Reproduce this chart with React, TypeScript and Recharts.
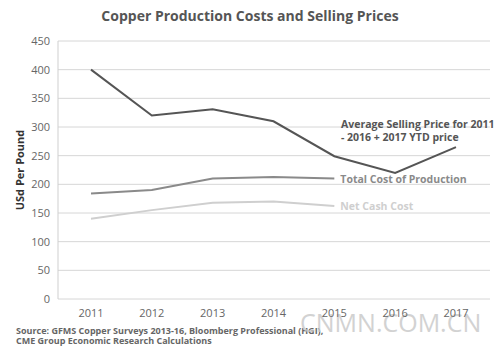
import React from "react";
import { LineChart, Line, XAxis, YAxis, CartesianGrid } from "recharts";

// values
const years = ["2011", "2012", "2013", "2014", "2015", "2016", "2017"];
const avgSellingPrice = [400, 320, 331, 310, 249, 220, 265];
const totalCost = [184, 190, 210, 213, 210, null, null];
const netCashCost = [140, 155, 168, 170, 162, null, null];
const yTicks = [0, 50, 100, 150, 200, 250, 300, 350, 400, 450];

const FONT = "'Open Sans', sans-serif";

const data = years.map((y, i) => ({
  year: y,
  avg: avgSellingPrice[i],
  total: totalCost[i],
  net: netCashCost[i],
}));

function endLabel(text: string[], color: string, at: number, dx: number, dy: number) {
  return (props: any) => {
    const { x, y, index } = props;
    if (index !== at) return null;
    return (
      <text
        key={`lbl-${text[0]}`}
        x={x + dx}
        y={y + dy}
        fill={color}
        fontSize={10.5}
        fontWeight={700}
        fontFamily={FONT}
      >
        {text.map((t, k) => (
          <tspan key={k} x={x + dx} dy={k === 0 ? 0 : 13}>
            {t}
          </tspan>
        ))}
      </text>
    );
  };
}

export default function App() {
  return (
    <div style={{ position: "absolute", left: 0, top: 0, width: 500, height: 358, background: "#fff", fontFamily: FONT }}>
      <LineChart width={500} height={358} data={data} margin={{ top: 41, right: 10, bottom: 29, left: 0 }}>
        <text x={250} y={21} textAnchor="middle" fill="#555" fontSize={14} fontWeight={700} fontFamily={FONT}>
          Copper Production Costs and Selling Prices
        </text>
        <text
          x={24}
          y={170}
          transform="rotate(-90 24 170)"
          textAnchor="middle"
          fill="#333"
          fontSize={11}
          fontWeight={700}
          fontFamily={FONT}
        >
          USd Per Pound
        </text>
        <CartesianGrid vertical={false} stroke="#d6d6d6" strokeWidth={1} />
        <XAxis
          dataKey="year"
          axisLine={false}
          tickLine={false}
          padding={{ left: 33, right: 34 }}
          tick={{ fontSize: 11, fill: "#666", fontFamily: FONT }}
          tickMargin={4}
        />
        <YAxis
          width={58}
          domain={[0, 450]}
          ticks={yTicks}
          interval={0}
          axisLine={{ stroke: "#cfcfcf" }}
          tickLine={false}
          tick={{ fontSize: 11, fill: "#666", fontFamily: FONT }}
        />
        <Line
          dataKey="net"
          stroke="#cfcfcf"
          strokeWidth={2}
          dot={false}
          isAnimationActive={false}
          label={endLabel(["Net Cash Cost"], "#cfcfcf", 4, 6, 4)}
        />
        <Line
          dataKey="total"
          stroke="#8a8a8a"
          strokeWidth={2}
          dot={false}
          isAnimationActive={false}
          label={endLabel(["Total Cost of Production"], "#8a8a8a", 4, 6, 4)}
        />
        <Line
          dataKey="avg"
          stroke="#555"
          strokeWidth={2}
          dot={false}
          isAnimationActive={false}
          label={endLabel(["Average Selling Price for 2011", "- 2016 + 2017 YTD price"], "#555", 6, -115, -19)}
        />
        <text x={16} y={334} fill="#666" fontSize={9} fontWeight={700} fontFamily={FONT}>
          Source: GFMS Copper Surveys 2013-16, Bloomberg Professional (HGI),
        </text>
        <text x={16} y={344} fill="#666" fontSize={9} fontWeight={700} fontFamily={FONT}>
          CME Group Economic Research Calculations
        </text>
        <text x={300} y={332} fill="#c8c8c8" fontSize={25} fontFamily={FONT} opacity={0.8}>
          CNMN.COM.CN
        </text>
      </LineChart>
    </div>
  );
}
